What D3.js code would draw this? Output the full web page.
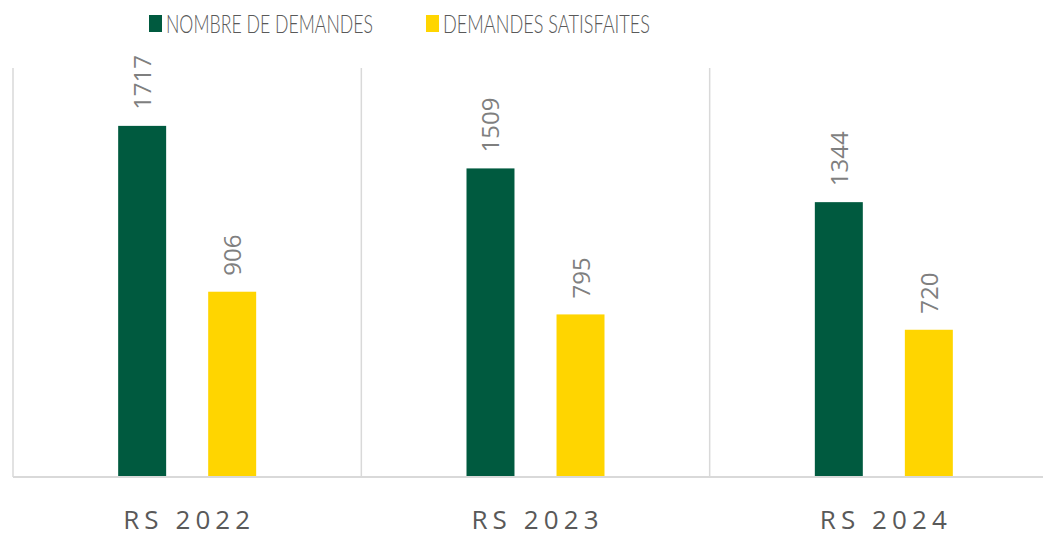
<!DOCTYPE html>
<html>
<head>
<meta charset="utf-8">
<script src="https://cdn.jsdelivr.net/npm/d3@7"></script>
<style>
  body { margin: 0; background: #fff; }
  text { font-family: "Open Sans", sans-serif; }
  .legend text { font-family: Lato, sans-serif; font-weight: 300; }
</style>
</head>
<body>
<svg class="chart"></svg>
<script>
var categories = ["RS 2022", "RS 2023", "RS 2024"];
var seriesNames = ["NOMBRE DE DEMANDES", "DEMANDES SATISFAITES"];
var demandes = [1717, 1509, 1344];
var satisfaites = [906, 795, 720];
var colors = ["#005a3f", "#ffd500"];

const canvas = {width: 1043, height: 534};
const margin = {top: 68, bottom: 57, left: 13, right: -15};
const chart_dimensions = {
    width: canvas.width - (margin.left + margin.right),
    height: canvas.height - (margin.top + margin.bottom)
};

const svg = d3.select(".chart")
    .attr("width", canvas.width)
    .attr("height", canvas.height);

const x = d3.scaleBand()
    .domain(categories)
    .range([0, chart_dimensions.width]);

const y = d3.scaleLinear()
    .domain([0, 2000])
    .range([chart_dimensions.height, 0]);

const g = svg.append("g")
    .attr("transform", "translate(" + margin.left + "," + margin.top + ")");

// vertical separators
g.selectAll(".sep")
    .data(categories.concat(["end"]))
    .enter().append("line")
    .attr("x1", (d, i) => i * x.bandwidth())
    .attr("x2", (d, i) => i * x.bandwidth())
    .attr("y1", 0)
    .attr("y2", chart_dimensions.height)
    .attr("stroke", "#d9d9d9")
    .attr("stroke-width", 1.5);

const rows = categories.map((c, i) => ({cat: c, values: [demandes[i], satisfaites[i]]}));

// two bars inside each category band
const xs = d3.scaleBand()
    .domain([0, 1])
    .range([x.bandwidth() / 2 - 69, x.bandwidth() / 2 + 69])
    .paddingInner(0.467)
    .paddingOuter(0);

const groups = g.selectAll(".cat")
    .data(rows)
    .enter().append("g")
    .attr("transform", d => "translate(" + x(d.cat) + ",0)");

groups.selectAll("rect")
    .data(d => d.values)
    .enter().append("rect")
    .attr("x", (d, i) => xs(i))
    .attr("width", xs.bandwidth())
    .attr("y", d => y(d))
    .attr("height", d => chart_dimensions.height - y(d))
    .attr("fill", (d, i) => colors[i]);

groups.selectAll(".val")
    .data(d => d.values)
    .enter().append("text")
    .attr("transform", (d, i) => "translate(" + (xs(i) + xs.bandwidth() / 2 + 9) + "," + (y(d) - 16) + ") rotate(-90)")
    .attr("font-size", 24)
    .attr("fill", "#7f7f7f")
    .text(d => d);

// baseline
g.append("line")
    .attr("x1", 0)
    .attr("x2", chart_dimensions.width)
    .attr("y1", chart_dimensions.height)
    .attr("y2", chart_dimensions.height)
    .attr("stroke", "#d9d9d9")
    .attr("stroke-width", 2);

// category labels
g.selectAll(".catlabel")
    .data(categories)
    .enter().append("text")
    .attr("x", d => x(d) + x.bandwidth() / 2 - 64)
    .attr("y", chart_dimensions.height + 52)
    .attr("font-size", 26)
    .attr("textLength", 127)
    .attr("lengthAdjust", "spacing")
    .attr("fill", "#595959")
    .text(d => d);

// legend
const legendX = [149, 426];
const legend = svg.selectAll(".legend")
    .data(seriesNames)
    .enter().append("g")
    .attr("class", "legend")
    .attr("transform", (d, i) => "translate(" + legendX[i] + ",0)");

legend.append("rect")
    .attr("x", 0)
    .attr("y", 15)
    .attr("width", 13)
    .attr("height", 17)
    .attr("fill", (d, i) => colors[i]);

legend.append("text")
    .attr("x", 17)
    .attr("y", 33)
    .attr("font-size", 25)
    .attr("textLength", 207)
    .attr("lengthAdjust", "spacingAndGlyphs")
    .attr("fill", "#595959")
    .text(d => d);
</script>
</body>
</html>
